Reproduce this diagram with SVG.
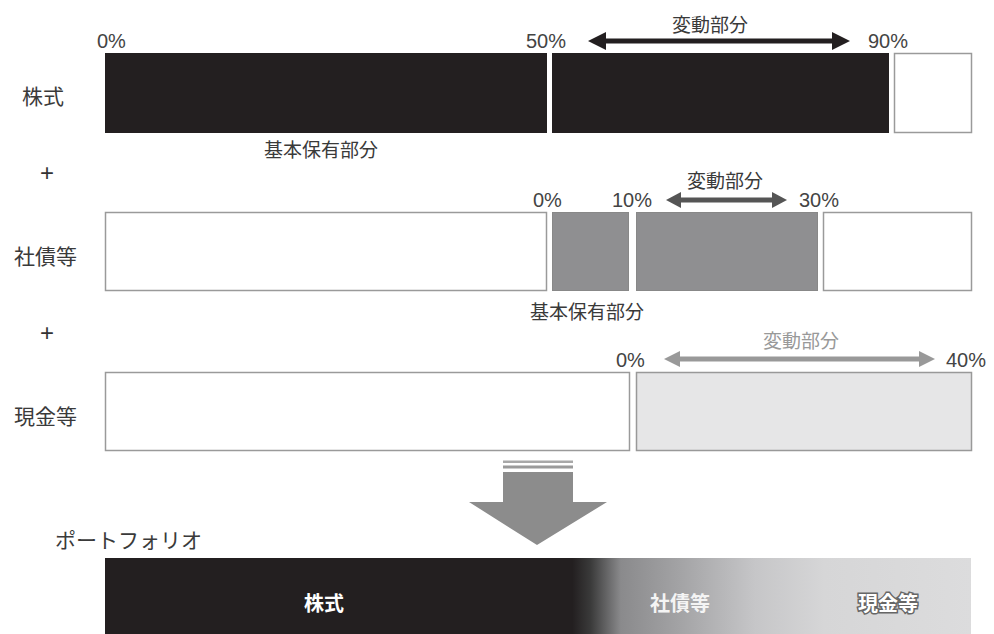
<svg xmlns="http://www.w3.org/2000/svg" width="994" height="634" viewBox="0 0 994 634">
<style>
text{font-family:"Noto Sans CJK JP","Liberation Sans",sans-serif}
.lbl{font-size:21px;fill:#3a3a3a}
.pct{font-family:"Liberation Sans","Noto Sans CJK JP",sans-serif;font-size:20px;fill:#444}
.sub{font-size:19px;fill:#3a3a3a}
.plus{font-family:"Liberation Sans",sans-serif;font-size:24px;fill:#333}
.blk{fill:#231f20}
.wht{fill:#fff;stroke:#9a9a9a;stroke-width:1.5}
.gry{fill:#8f8f91;stroke:#888;stroke-width:1}
.lgt{fill:#e6e6e7;stroke:#999;stroke-width:1.5}
.in{font-size:20px;font-weight:bold;fill:#fff;text-anchor:middle}
</style>
<defs>
<linearGradient id="pg" gradientUnits="userSpaceOnUse" x1="105" y1="0" x2="972" y2="0">
<stop offset="0" stop-color="#231f20"/>
<stop offset="0.539" stop-color="#231f20"/>
<stop offset="0.56" stop-color="#3a3a3a"/>
<stop offset="0.595" stop-color="#8a8a8c"/>
<stop offset="0.66" stop-color="#a2a2a4"/>
<stop offset="0.75" stop-color="#c6c6c8"/>
<stop offset="0.83" stop-color="#d6d6d7"/>
<stop offset="1" stop-color="#dcdcdd"/>
</linearGradient>
</defs>

<g id="row-stocks">
<text class="lbl" x="22" y="104">株式</text>
<rect class="blk" x="105" y="53" width="442" height="80"/>
<rect class="blk" x="552" y="53" width="337" height="80"/>
<rect class="wht" x="894.5" y="53.5" width="77" height="79"/>
<text class="pct" x="97" y="48">0%</text>
<text class="pct" x="526" y="48">50%</text>
<text class="pct" x="868" y="48">90%</text>
<text class="sub" x="710" y="32" text-anchor="middle">変動部分</text>
<text class="sub" x="321" y="157" text-anchor="middle">基本保有部分</text>
</g>

<text class="plus" x="47" y="181" text-anchor="middle">+</text>

<g id="row-bonds">
<text class="lbl" x="14" y="264">社債等</text>
<rect class="wht" x="105.5" y="212.5" width="441" height="78"/>
<rect class="gry" x="552.5" y="212.5" width="76" height="78"/>
<rect class="gry" x="636.5" y="212.5" width="181" height="78"/>
<rect class="wht" x="823.5" y="212.5" width="148" height="78"/>
<text class="pct" x="533" y="207">0%</text>
<text class="pct" x="612" y="207">10%</text>
<text class="pct" x="799" y="207">30%</text>
<text class="sub" x="725" y="188" text-anchor="middle">変動部分</text>
<text class="sub" x="587" y="319" text-anchor="middle">基本保有部分</text>
</g>

<text class="plus" x="47" y="341" text-anchor="middle">+</text>

<g id="row-cash">
<text class="lbl" x="14" y="424">現金等</text>
<rect class="wht" x="105.5" y="372.5" width="524" height="78"/>
<rect class="lgt" x="636.5" y="372.5" width="335" height="78"/>
<text class="pct" x="616" y="367">0%</text>
<text class="pct" x="946" y="367">40%</text>
<text class="sub" x="801" y="348" text-anchor="middle" style="fill:#999">変動部分</text>
</g>

<g id="connectors">
<path d="M588 41 L606 32 L606 38.5 L832 38.5 L832 32 L850 41 L832 50 L832 43.5 L606 43.5 L606 50 Z" fill="#231f20"/>
<path d="M666 200 L681 192 L681 197.5 L772 197.5 L772 192 L787 200 L772 208 L772 202.5 L681 202.5 L681 208 Z" fill="#555"/>
<path d="M664 359 L680 351 L680 356.5 L919 356.5 L919 351 L935 359 L919 367 L919 361.5 L680 361.5 L680 367 Z" fill="#999"/>
</g>

<g id="merge-arrow">
<rect x="503" y="460.5" width="70" height="2.5" fill="#a8a8a8"/>
<rect x="503" y="465.5" width="70" height="3" fill="#9a9a9a"/>
<path d="M503 472 L573 472 L573 502 L607 502 L537 545 L469 502 L503 502 Z" fill="#8c8c8c"/>
</g>

<g id="portfolio">
<text class="lbl" x="55" y="548">ポートフォリオ</text>
<rect x="105" y="558" width="866" height="76" fill="url(#pg)"/>
<text class="in" x="324" y="611">株式</text>
<text class="in" x="680" y="611" style="fill:#f4f4f4">社債等</text>
<text class="in" x="888" y="611" style="stroke:#666;stroke-width:3;paint-order:stroke">現金等</text>
</g>
</svg>
